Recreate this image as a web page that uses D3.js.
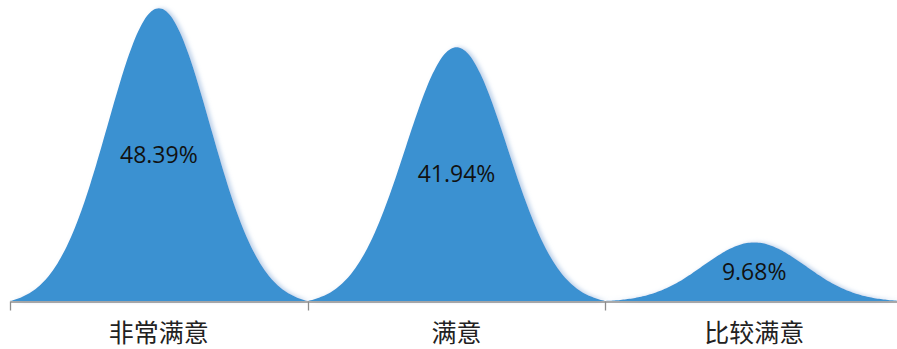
<!DOCTYPE html>
<html>
<head>
<meta charset="utf-8">
<script src="https://cdn.jsdelivr.net/npm/d3@7"></script>
<style>
  body { margin: 0; background: #fff; }
</style>
</head>
<body>
<div id="chart"></div>
<script>
var categories = ["非常满意", "满意", "比较满意"];
var values = [48.39, 41.94, 9.68];
var valueLabels = ["48.39%", "41.94%", "9.68%"];

var margin = { top: 8, right: -6, bottom: 48, left: 10 },
	fullW = 897, fullH = 349,
	width = fullW - margin.left - margin.right,
	height = fullH - margin.top - margin.bottom;

var svg = d3.select("#chart")
	.append("svg")
		.attr("width", fullW)
		.attr("height", fullH)

var defs = svg.append("defs");
var filt = defs.append("filter").attr("id", "glow")
	.attr("x", "-10%").attr("y", "-10%").attr("width", "130%").attr("height", "120%");
filt.append("feDropShadow")
	.attr("dx", 3).attr("dy", 0).attr("stdDeviation", 2)
	.attr("flood-color", "#b9cfe8").attr("flood-opacity", 0.9);

var g = svg.append("g")
	.attr("transform", "translate(" + margin.left + "," + margin.top + ")");

var x = d3.scaleBand()
	.domain(categories)
	.range([0, width])
	.padding(0);

var y = d3.scaleLinear()
	.domain([0, 48.39])
	.range([height, 0]);

// bell shape: gaussian scaled to touch zero at the band edges
var sigma = 0.172;
var e0 = Math.exp(-0.25 / (2 * sigma * sigma));
function bell(t) {
	return (Math.exp(-(t * t) / (2 * sigma * sigma)) - e0) / (1 - e0);
}
var steps = d3.range(-0.5, 0.5001, 0.01);

var area = d3.area()
	.x(function(d) { return d.x })
	.y0(y(0))
	.y1(function(d) { return d.y })
	.curve(d3.curveBasis);

g.selectAll(".peak")
	.data(values)
	.enter()
	.append("path")
		.attr("class", "peak")
		.attr("fill", "#3b91d1")
		.attr("filter", "url(#glow)")
		.attr("d", function(v, i) {
			var bw = x.bandwidth(), x0 = x(categories[i]);
			var pts = steps.map(function(t) {
				return { x: x0 + (t + 0.5) * bw, y: y(v * bell(t)) };
			});
			return area(pts);
		});

g.selectAll(".vlabel")
	.data(values)
	.enter()
	.append("text")
		.attr("class", "vlabel")
		.attr("x", function(d, i) { return x(categories[i]) + x.bandwidth() / 2 })
		.attr("y", function(d) { return (y(d) + y(0)) / 2 })
		.attr("dy", "0.36em")
		.attr("text-anchor", "middle")
		.style("font-family", "'Open Sans', sans-serif")
		.style("font-size", "23px")
		.style("fill", "#111")
		.text(function(d, i) { return valueLabels[i] });

var axis = g.append("g")
	.attr("transform", "translate(0," + (height + 0.5) + ")")
	.call(d3.axisBottom(x).tickSize(0).tickPadding(23));
axis.select(".domain").attr("stroke", "#8c8c8c").attr("stroke-width", 1.3);
axis.selectAll("text")
	.style("font-family", "'Noto Sans CJK SC', sans-serif")
	.style("font-size", "25px")
	.style("fill", "#222");

// category separators
axis.selectAll(".sep")
	.data(categories)
	.enter()
	.append("line")
		.attr("x1", function(d) { return Math.round(x(d)) + 0.5 })
		.attr("x2", function(d) { return Math.round(x(d)) + 0.5 })
		.attr("y1", 0)
		.attr("y2", 9)
		.attr("stroke", "#8c8c8c")
		.attr("stroke-width", 1.3);
</script>
</body>
</html>
